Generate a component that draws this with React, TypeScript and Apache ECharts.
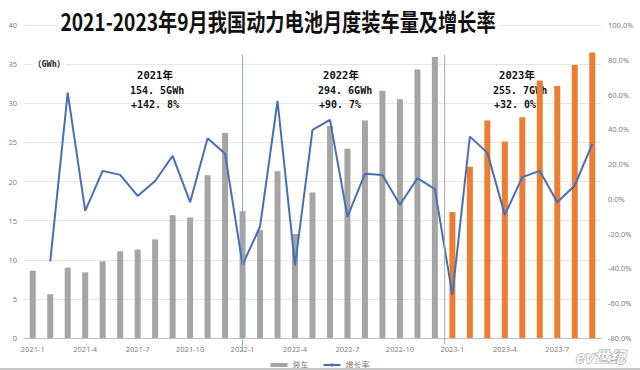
import React, { useEffect, useRef } from "react";
import * as echarts from "echarts";

const categories = [
  "2021-1", "2021-2", "2021-3", "2021-4", "2021-5", "2021-6", "2021-7", "2021-8", "2021-9", "2021-10", "2021-11", "2021-12",
  "2022-1", "2022-2", "2022-3", "2022-4", "2022-5", "2022-6", "2022-7", "2022-8", "2022-9", "2022-10", "2022-11", "2022-12",
  "2023-1", "2023-2", "2023-3", "2023-4", "2023-5", "2023-6", "2023-7", "2023-8", "2023-9",
];

const installed = [
  8.6, 5.6, 9.0, 8.4, 9.8, 11.1, 11.3, 12.6, 15.7, 15.4, 20.8, 26.2,
  16.2, 13.8, 21.3, 13.3, 18.6, 27.1, 24.2, 27.8, 31.6, 30.5, 34.3, 35.9,
  16.1, 21.9, 27.8, 25.1, 28.2, 32.9, 32.2, 34.9, 36.5,
];

const growth = [
  null, -36.0, 61.1, -6.9, 16.1, 13.8, 1.7, 10.3, 24.7, -1.9, 34.9, 25.9,
  -37.9, -15.9, 56.3, -38.3, 39.7, 45.4, -10.2, 14.4, 13.8, -3.4, 11.9, 5.6,
  -55.2, 35.8, 26.6, -9.2, 12.5, 16.1, -1.9, 7.7, 31.6,
];

const yearNotes = [
  { year: "2021年", total: "154.5GWh", rate: "+142.8%", cx: 155, lx: 130 },
  { year: "2022年", total: "294.6GWh", rate: "+90.7%", cx: 341, lx: 318 },
  { year: "2023年", total: "255.7GWh", rate: "+32.0%", cx: 517, lx: 493 },
];

const TITLE = "2021-2023年9月我国动力电池月度装车量及增长率";

export default function App() {
  const ref = useRef<HTMLDivElement>(null);
  useEffect(() => {
    if (!ref.current) return;
    const chart = echarts.init(ref.current, null, { renderer: "svg" });
    const gray = "#a5a5a5";
    const orange = "#ed7d31";
    const labelColor = "#808080";
    const mono = "'DejaVu Sans Mono', 'Noto Sans CJK SC', monospace";

    const noteTexts: any[] = [];
    yearNotes.forEach((n) => {
      noteTexts.push({
        type: "text", x: n.cx, y: 75,
        style: { text: n.year, fill: "#111", font: `bold 10.5px ${mono}`, textAlign: "center", textVerticalAlign: "middle" },
      });
      noteTexts.push({
        type: "text", x: n.lx, y: 90,
        style: { text: n.total.replace(".", ". "), fill: "#111", font: `bold 10px ${mono}`, textAlign: "left", textVerticalAlign: "middle" },
      });
      noteTexts.push({
        type: "text", x: n.lx + 1, y: 104,
        style: { text: n.rate.replace(".", ". "), fill: "#111", font: `bold 10px ${mono}`, textAlign: "left", textVerticalAlign: "middle" },
      });
    });

    const option: any = {
      animation: false,
      backgroundColor: "#fff",
      grid: { left: 24, right: 39, top: 25, bottom: 32, containLabel: false },
      legend: {
        top: 356,
        left: "center",
        itemWidth: 17,
        itemHeight: 4,
        itemGap: 14,
        textStyle: { fontSize: 8, color: "#777", fontFamily: "Noto Sans CJK SC" },
        data: [{ name: "装车", icon: "rect" }, { name: "增长率" }],
      },
      xAxis: {
        type: "category",
        data: categories,
        axisLine: { lineStyle: { color: "#bfbfbf" } },
        axisTick: { show: false },
        axisLabel: { interval: 2, fontSize: 7.5, color: labelColor, margin: 7, fontFamily: "Noto Sans" },
      },
      yAxis: [
        {
          type: "value", min: 0, max: 40, interval: 5,
          axisLine: { show: false }, axisTick: { show: false },
          axisLabel: { fontSize: 7.5, color: labelColor, margin: 7, fontFamily: "Noto Sans" },
          splitLine: { lineStyle: { color: "#e6e6e6" } },
        },
        {
          type: "value", min: -80, max: 100, interval: 20,
          axisLine: { show: false }, axisTick: { show: false },
          axisLabel: { fontSize: 7.5, color: labelColor, margin: 7, fontFamily: "Noto Sans", formatter: (v: number) => v.toFixed(1) + "%" },
          splitLine: { show: false },
        },
      ],
      series: [
        {
          name: "装车",
          type: "bar",
          barWidth: 6,
          itemStyle: { color: gray },
          data: installed.map((v, i) => ({ value: v, itemStyle: { color: i >= 24 ? orange : gray } })),
          z: 2,
        },
        {
          name: "增长率",
          type: "line",
          yAxisIndex: 1,
          symbol: "none",
          lineStyle: { color: "#4670b5", width: 2 },
          itemStyle: { color: "#4670b5" },
          data: growth,
          z: 3,
        },
      ],
    };
    chart.setOption(option);

    const x1 = chart.convertToPixel({ xAxisIndex: 0 }, "2022-1") as number;
    const xa = chart.convertToPixel({ xAxisIndex: 0 }, "2022-12") as number;
    const xb = chart.convertToPixel({ xAxisIndex: 0 }, "2023-1") as number;
    const x2 = (xa + xb) / 2 + 1;

    chart.setOption({
      graphic: [
        { type: "line", shape: { x1: x1, y1: 55, x2: x1, y2: 352 }, style: { stroke: "#8fa6c4", lineWidth: 1 }, z: 10 },
        { type: "line", shape: { x1: x2, y1: 55, x2: x2, y2: 344 }, style: { stroke: "#a9a9b4", lineWidth: 1 }, z: 10 },
        {
          type: "text", x: 278, y: 21, scaleX: 0.8,
          style: {
            text: TITLE, fill: "#111", font: "bold 24px 'Noto Sans CJK SC'",
            textAlign: "center", textVerticalAlign: "middle", backgroundColor: "#fff", padding: [0, 3],
          },
          z: 20,
        },
        {
          type: "text", x: 33, y: 64,
          style: { text: "（GWh）", fill: "#222", font: `bold 8.5px ${mono}`, textAlign: "left", textVerticalAlign: "middle", backgroundColor: "#fff" },
          z: 20,
        },
        ...noteTexts,
        {
          type: "text", x: 600, y: 356,
          style: {
            text: "ev世纪", fill: "rgba(255,255,255,0.9)", stroke: "#9a9a9a", lineWidth: 1,
            font: "italic bold 16px 'Noto Sans CJK SC'", textAlign: "center", textVerticalAlign: "middle",
          },
          z: 20,
        },
        { type: "line", shape: { x1: 0, y1: 369, x2: 640, y2: 369 }, style: { stroke: "#c8c8c8", lineWidth: 2 }, z: 20 },
      ],
    });

    return () => chart.dispose();
  }, []);
  return <div ref={ref} style={{ width: 640, height: 370, position: "absolute", left: 0, top: 0 }} />;
}
